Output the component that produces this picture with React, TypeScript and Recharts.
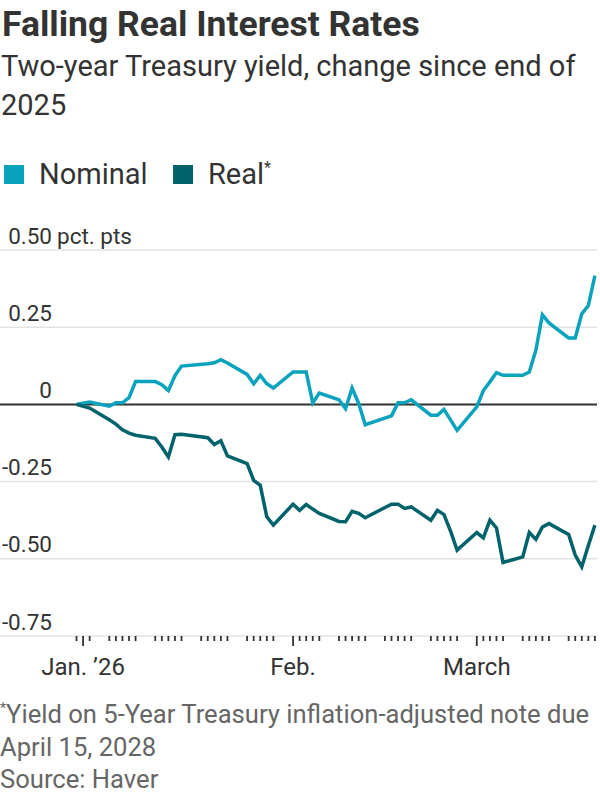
import { LineChart, Line, XAxis, YAxis, CartesianGrid, ReferenceLine } from "recharts";

// trading days, end of 2025 through March 20, 2026
const dates = [
  "2025-12-31", "2026-01-02",
  "2026-01-05", "2026-01-06", "2026-01-07", "2026-01-08", "2026-01-09",
  "2026-01-12", "2026-01-13", "2026-01-14", "2026-01-15", "2026-01-16",
  "2026-01-20", "2026-01-21", "2026-01-22", "2026-01-23",
  "2026-01-26", "2026-01-27", "2026-01-28", "2026-01-29", "2026-01-30",
  "2026-02-02", "2026-02-03", "2026-02-04", "2026-02-05", "2026-02-06",
  "2026-02-09", "2026-02-10", "2026-02-11", "2026-02-12", "2026-02-13",
  "2026-02-17", "2026-02-18", "2026-02-19", "2026-02-20",
  "2026-02-23", "2026-02-24", "2026-02-25", "2026-02-26", "2026-02-27",
  "2026-03-02", "2026-03-03", "2026-03-04", "2026-03-05", "2026-03-06",
  "2026-03-09", "2026-03-10", "2026-03-11", "2026-03-12", "2026-03-13",
  "2026-03-16", "2026-03-17", "2026-03-18", "2026-03-19", "2026-03-20",
];

// change since end of 2025, pct. pts
const nominal = [
  0, 0.008,
  -0.006, 0.005, 0.005, 0.022, 0.074,
  0.074, 0.064, 0.045, 0.093, 0.124,
  0.132, 0.135, 0.145, 0.134,
  0.097, 0.067, 0.094, 0.067, 0.053,
  0.105, 0.105, 0.105, 0.005, 0.037,
  0.015, -0.014, 0.053, 0.003, -0.066,
  -0.037, 0.005, 0.005, 0.015,
  -0.035, -0.035, -0.016, -0.05, -0.084,
  -0.008, 0.045, 0.073, 0.103, 0.094,
  0.094, 0.105, 0.175, 0.29, 0.264,
  0.215, 0.215, 0.293, 0.32, 0.417,
];

const real = [
  0, -0.012,
  -0.05, -0.064, -0.082, -0.093, -0.1,
  -0.11, -0.138, -0.17, -0.098, -0.097,
  -0.108, -0.13, -0.118, -0.167,
  -0.192, -0.246, -0.262, -0.364, -0.391,
  -0.323, -0.343, -0.324, -0.339, -0.353,
  -0.379, -0.38, -0.346, -0.353, -0.367,
  -0.323, -0.323, -0.337, -0.332,
  -0.375, -0.343, -0.357, -0.41, -0.472,
  -0.415, -0.432, -0.375, -0.4, -0.512,
  -0.494, -0.415, -0.437, -0.397, -0.386,
  -0.421, -0.488, -0.526, -0.457, -0.391,
];

const yTicks = [-0.75, -0.5, -0.25, 0, 0.25, 0.5];
const monthLabels = ["Jan. \u201926", "Feb.", "March"];

const NOMINAL_COLOR = "#0aa3be";
const REAL_COLOR = "#00626b";
const FONT = "Roboto, 'Noto Sans', sans-serif";

const DAY_MS = 86400000;
const start = Date.UTC(2025, 11, 31);
const toDay = (iso: string) => {
  const [y, m, d] = iso.split("-").map(Number);
  return Math.round((Date.UTC(y, m - 1, d) - start) / DAY_MS);
};

const data = dates.map((d, i) => ({ day: toDay(d), nominal: nominal[i], real: real[i] }));

// a tick on every weekday, a long one on the first weekday of each month
const lastDay = toDay(dates[dates.length - 1]);
const weekdayTicks: number[] = [];
const monthStarts: number[] = [];
let prevMonth = -1;
for (let d = 0; d <= lastDay; d++) {
  const dt = new Date(start + d * DAY_MS);
  const wd = dt.getUTCDay();
  if (wd === 0 || wd === 6) continue;
  if (prevMonth !== -1 && dt.getUTCMonth() !== prevMonth) monthStarts.push(d);
  prevMonth = dt.getUTCMonth();
  weekdayTicks.push(d);
}

function DayTick(props: any) {
  const { x, y, payload } = props;
  const idx = monthStarts.indexOf(payload.value);
  const isLong = idx >= 0;
  return (
    <g>
      <line x1={x} x2={x} y1={y} y2={y + (isLong ? 10 : 5)} stroke="#333" strokeWidth={1.8} />
      {isLong && (
        <text x={x} y={y + 39} textAnchor="middle" fontFamily={FONT} fontSize={24} fill="#333">
          {monthLabels[idx]}
        </text>
      )}
    </g>
  );
}

function ValueTick(props: any) {
  const { y, payload } = props;
  const v = payload.value as number;
  const label = v === 0 ? "0" : v.toFixed(2);
  return (
    <g>
      <text x={52} y={y - 6.5} textAnchor="end" fontFamily={FONT} fontSize={22.5} fill="#333">
        {label}
      </text>
      {v === 0.5 && (
        <text x={57} y={y - 6.5} textAnchor="start" fontFamily={FONT} fontSize={22.5} fill="#333">
          pct. pts
        </text>
      )}
    </g>
  );
}

function App() {
  return (
    <div style={{ position: "absolute", left: 0, top: 0, width: 600, height: 800, background: "#fff" }}>
      <svg width={600} height={200} style={{ position: "absolute", left: 0, top: 0 }}>
        <text x={2} y={36} fontFamily={FONT} fontWeight={700} fontSize={35.5} fill="#333">
          Falling Real Interest Rates
        </text>
        <text x={1} y={76} fontFamily={FONT} fontSize={29} fill="#333">
          Two-year Treasury yield, change since end of
        </text>
        <text x={1} y={115} fontFamily={FONT} fontSize={29} fill="#333">
          2025
        </text>
        <rect x={4} y={165} width={20} height={19} fill={NOMINAL_COLOR} />
        <text x={39} y={184} fontFamily={FONT} fontSize={29} fill="#333">
          Nominal
        </text>
        <rect x={173} y={165} width={20} height={19} fill={REAL_COLOR} />
        <text x={208} y={184} fontFamily={FONT} fontSize={29} fill="#333">
          Real<tspan fontSize={16} dy={-11}>*</tspan>
        </text>
      </svg>

      <div style={{ position: "absolute", left: 0, top: 200 }}>
        <LineChart width={600} height={490} data={data} margin={{ top: 50, right: 3, bottom: 0, left: 0 }}>
          <CartesianGrid vertical={false} stroke="#e2e2e2" strokeWidth={1.5} />
          <XAxis
            dataKey="day"
            type="number"
            domain={[-11.66, 79.32]}
            ticks={weekdayTicks}
            interval={0}
            axisLine={false}
            tickLine={false}
            tickSize={0}
            tickMargin={0}
            height={54}
            tick={<DayTick />}
          />
          <YAxis
            type="number"
            domain={[-0.75, 0.5]}
            ticks={yTicks}
            interval={0}
            mirror
            width={60}
            axisLine={false}
            tickLine={false}
            tick={<ValueTick />}
          />
          <ReferenceLine y={0} stroke="#333" strokeWidth={2} />
          <Line
            type="linear"
            dataKey="nominal"
            stroke={NOMINAL_COLOR}
            strokeWidth={3.5}
            dot={false}
            isAnimationActive={false}
          />
          <Line
            type="linear"
            dataKey="real"
            stroke={REAL_COLOR}
            strokeWidth={3.5}
            dot={false}
            isAnimationActive={false}
          />
        </LineChart>
      </div>

      <svg width={600} height={110} style={{ position: "absolute", left: 0, top: 690 }}>
        <text x={0} y={33} fontFamily={FONT} fontSize={25.6} fill="#666">
          <tspan fontSize={14} dy={-10}>*</tspan>
          <tspan dy={10}>Yield on 5-Year Treasury inflation-adjusted note due</tspan>
        </text>
        <text x={0} y={66} fontFamily={FONT} fontSize={25.6} fill="#666">
          April 15, 2028
        </text>
        <text x={0} y={98} fontFamily={FONT} fontSize={25.6} fill="#666">
          Source: Haver
        </text>
      </svg>
    </div>
  );
}

export default App;
